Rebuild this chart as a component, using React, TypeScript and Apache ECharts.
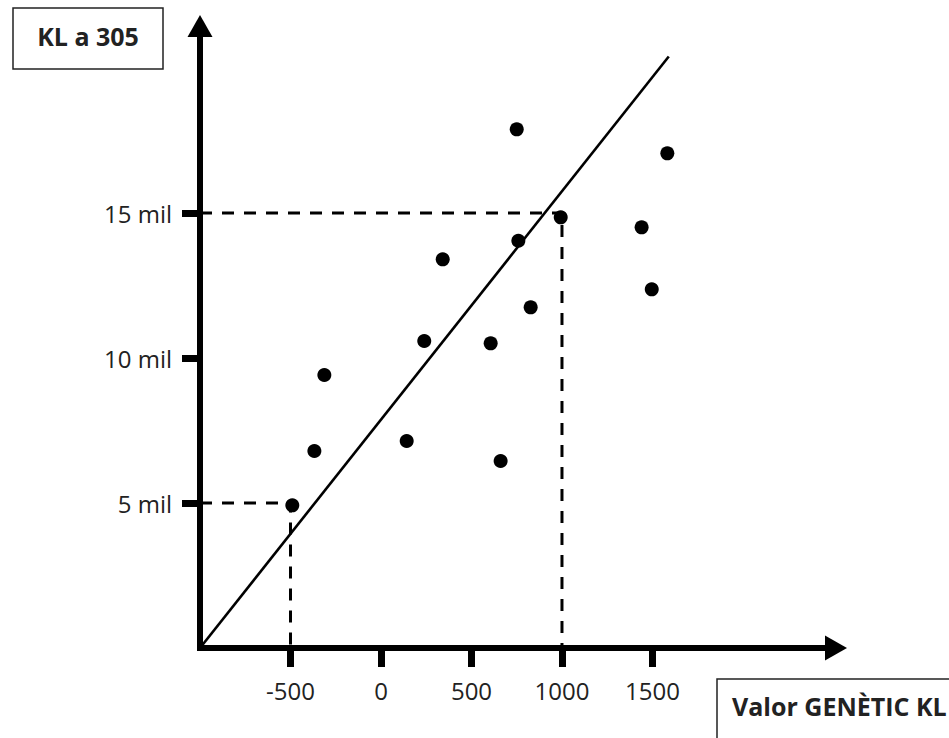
import { useEffect, useRef } from 'react';
import * as echarts from 'echarts';

const xTickValues = [-500, 0, 500, 1000, 1500];
const yTickValues = [5000, 10000, 15000];
const yTickLabels = ['5 mil', '10 mil', '15 mil'];

const pointsX = [-490, -368, -313, 142, 239, 341, 606, 661, 750, 759, 827, 993, 1440, 1496, 1582];
const pointsY = [4920, 6793, 9414, 7138, 10586, 13403, 10507, 6448, 17886, 14045, 11748, 14852, 14507, 12369, 17059];

const trendX = [-1000, 1590];
const trendY = [0, 20400];

const guideLowX = [-1000, -500, -500];
const guideLowY = [5000, 5000, 0];
const guideHighX = [-1000, 1000, 1000];
const guideHighY = [15000, 15000, 0];

const yAxisTitle = 'KL a 305';
const xAxisTitle = 'Valor GENÈTIC KL';

const FONT = '"Open Sans", "Noto Sans", sans-serif';

const zip = (xs: number[], ys: number[]) => xs.map((x, i) => [x, ys[i]]);

export default function App() {
  const ref = useRef<HTMLDivElement>(null);
  useEffect(() => {
    if (!ref.current) return;
    const chart = echarts.init(ref.current, null, { renderer: 'svg' });
    chart.setOption({
      animation: false,
      backgroundColor: '#fff',
      textStyle: { fontFamily: FONT },
      grid: { left: 200, right: 113, top: 26, bottom: 90, containLabel: false },
      xAxis: {
        type: 'value',
        min: -1000,
        max: 2514,
        splitLine: { show: false },
        axisLine: {
          show: true,
          onZero: false,
          symbol: ['none', 'triangle'],
          symbolSize: [25, 22],
          lineStyle: { color: '#000', width: 6, cap: 'square' },
        },
        axisTick: {
          show: true,
          length: 19,
          customValues: xTickValues,
          lineStyle: { color: '#000', width: 7 },
        },
        axisLabel: {
          customValues: xTickValues,
          margin: 30,
          fontSize: 24,
          color: '#222',
          fontFamily: FONT,
          formatter: (v: number) => String(v),
        },
      },
      yAxis: {
        type: 'value',
        min: 0,
        max: 21450,
        splitLine: { show: false },
        axisLine: {
          show: true,
          onZero: false,
          symbol: ['none', 'triangle'],
          symbolSize: [25, 22],
          lineStyle: { color: '#000', width: 6, cap: 'square' },
        },
        axisTick: {
          show: true,
          length: 18,
          customValues: yTickValues,
          lineStyle: { color: '#000', width: 7 },
        },
        axisLabel: {
          customValues: yTickValues,
          margin: 28,
          fontSize: 24,
          color: '#222',
          fontFamily: FONT,
          formatter: (v: number) => {
            const i = yTickValues.indexOf(v);
            return i >= 0 ? yTickLabels[i] : '';
          },
        },
      },
      series: [
        {
          type: 'line',
          data: zip(guideLowX, guideLowY),
          symbol: 'none',
          lineStyle: { color: '#000', width: 3, type: [12, 10] },
          silent: true,
          z: 1,
        },
        {
          type: 'line',
          data: zip(guideHighX, guideHighY),
          symbol: 'none',
          lineStyle: { color: '#000', width: 3, type: [12, 10] },
          silent: true,
          z: 1,
        },
        {
          type: 'line',
          data: zip(trendX, trendY),
          symbol: 'none',
          lineStyle: { color: '#000', width: 2.6 },
          silent: true,
          z: 2,
        },
        {
          type: 'scatter',
          data: zip(pointsX, pointsY),
          symbol: 'circle',
          symbolSize: 14,
          itemStyle: { color: '#000', opacity: 1 },
          z: 3,
        },
      ],
      graphic: [
        {
          type: 'rect',
          shape: { x: 13, y: 8, width: 150, height: 61 },
          style: { fill: '#fff', stroke: '#222', lineWidth: 1.5 },
        },
        {
          type: 'text',
          x: 88,
          y: 36,
          style: {
            text: yAxisTitle,
            fontSize: 25,
            fontWeight: 'bold',
            fontFamily: FONT,
            fill: '#222',
            textAlign: 'center',
            textVerticalAlign: 'middle',
          },
        },
        {
          type: 'rect',
          shape: { x: 717, y: 679, width: 260, height: 90 },
          style: { fill: '#fff', stroke: '#222', lineWidth: 1.5 },
        },
        {
          type: 'text',
          x: 732,
          y: 706,
          style: {
            text: xAxisTitle,
            fontSize: 25,
            fontWeight: 'bold',
            fontFamily: FONT,
            fill: '#222',
            textAlign: 'left',
            textVerticalAlign: 'middle',
          },
        },
      ],
    });
    return () => chart.dispose();
  }, []);
  return (
    <div
      ref={ref}
      style={{ position: 'fixed', left: 0, top: 0, width: 949, height: 738, background: '#fff' }}
    />
  );
}
